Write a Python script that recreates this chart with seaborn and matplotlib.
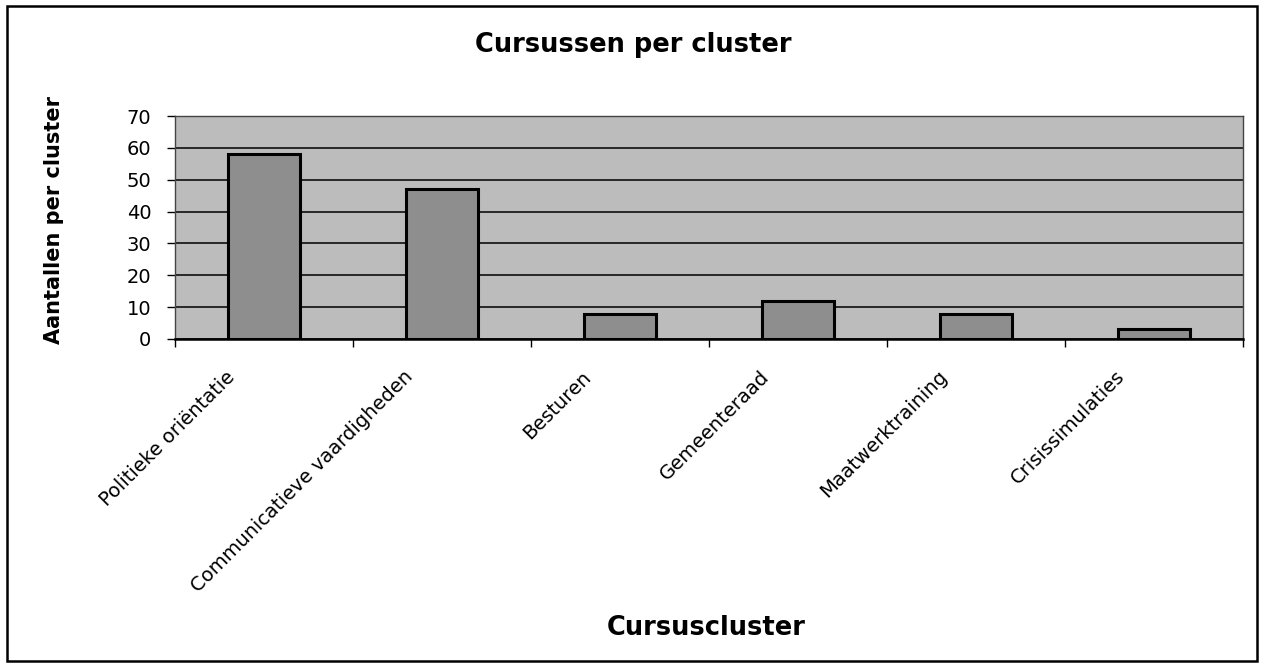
import matplotlib
matplotlib.use("Agg")
import matplotlib.pyplot as plt
import matplotlib.transforms as mtransforms
from matplotlib.patches import Rectangle
import seaborn as sns
import pandas as pd

# Data
clusters = ["Politieke oriëntatie", "Communicatieve vaardigheden", "Besturen",
            "Gemeenteraad", "Maatwerktraining", "Crisissimulaties"]
aantallen = [58, 47, 8, 12, 8, 3]
y_ticks = [0, 10, 20, 30, 40, 50, 60, 70]

df = pd.DataFrame({"cluster": clusters, "aantal": aantallen})

sns.set_style("white")
plt.rcParams["font.family"] = ["DejaVu Sans"]
plt.rcParams["text.color"] = "black"
plt.rcParams["xtick.color"] = "black"
plt.rcParams["ytick.color"] = "black"

fig = plt.figure(figsize=(12.66, 6.68), dpi=100)
ax = fig.add_axes([175 / 1266, 1 - 339 / 668, (1243 - 175) / 1266, (339 - 116) / 668])

ax.set_facecolor("#bcbcbc")
sns.barplot(data=df, x="cluster", y="aantal", color="#8e8e8e", width=0.405,
            edgecolor="black", linewidth=2.2, saturation=1, ax=ax, zorder=3)

ax.set_xlim(-0.5, len(clusters) - 0.5)
ax.set_ylim(0, 70)
ax.set_yticks(y_ticks)
ax.yaxis.grid(True, color="black", linewidth=1.1)
ax.set_axisbelow(True)
for s in ax.spines.values():
    s.set_color("#444444")
    s.set_linewidth(1)
ax.spines["bottom"].set_color("black")
ax.spines["bottom"].set_linewidth(1.8)

ax.tick_params(axis="y", which="major", left=True, length=6, width=1, color="black",
               labelsize=14, pad=11)
# category boundary ticks like Excel
ax.set_xticks([i - 0.5 for i in range(len(clusters) + 1)], minor=True)
ax.tick_params(axis="x", which="minor", bottom=True, length=6, width=1, color="black")
ax.tick_params(axis="x", which="major", bottom=False, labelsize=14, pad=0)
ax.set_xticks(range(len(clusters)))
ax.set_xticklabels(clusters, rotation=45, ha="right", va="center", rotation_mode="anchor")
offset = mtransforms.ScaledTranslation(-0.32, -0.30, fig.dpi_scale_trans)
for lab in ax.get_xticklabels():
    lab.set_transform(lab.get_transform() + offset)

ax.set_xlabel("")
ax.set_ylabel("")

fig.text(0.5, 1 - 45 / 668, "Cursussen per cluster", ha="center", va="center",
         fontsize=18.5, fontweight="bold")
fig.text(706 / 1266, 1 - 628 / 668, "Cursuscluster", ha="center", va="center",
         fontsize=18.5, fontweight="bold")
fig.text(54 / 1266, 1 - 220 / 668, "Aantallen per cluster", ha="center", va="center",
         rotation=90, fontsize=15, fontweight="bold")

# outer chart frame
fig.add_artist(Rectangle((7 / 1266, 1 - 661 / 668), (1257 - 7) / 1266, (661 - 6) / 668,
                         transform=fig.transFigure, fill=False, edgecolor="black",
                         linewidth=1.8))

fig.savefig("out.png", dpi=100)
